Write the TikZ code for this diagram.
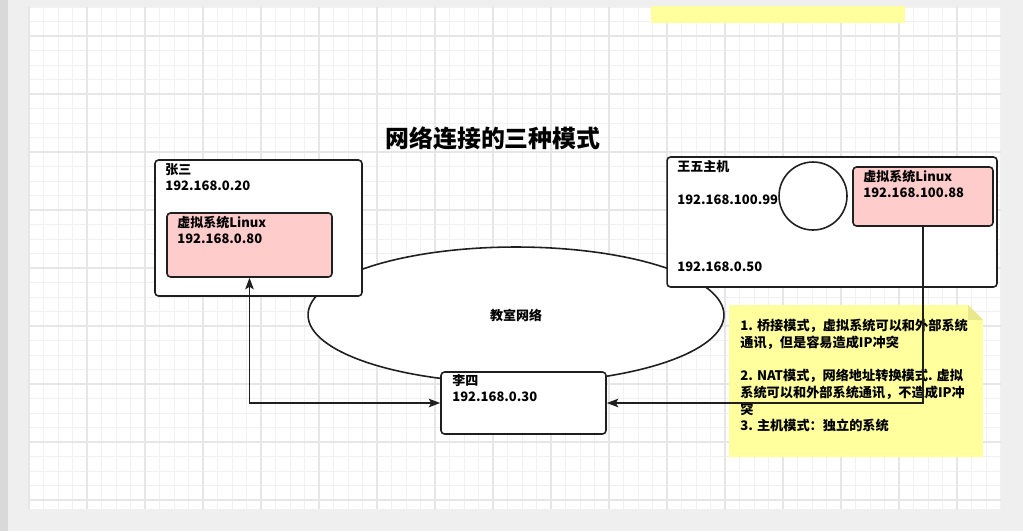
\documentclass[tikz,border=0pt]{standalone}
\usepackage{fontspec}
\setmainfont{Noto Sans CJK SC}
\usepackage{xcolor}
\usetikzlibrary{shapes.geometric, arrows.meta, positioning}

\definecolor{vmpink}{HTML}{FFCCCC}
\definecolor{notey}{HTML}{FFFF9E}
\definecolor{notefold}{HTML}{E8E88C}
\definecolor{inkline}{HTML}{1F1F1F}
\definecolor{pagegray}{HTML}{EFEFEF}
\definecolor{gridminor}{HTML}{F1F1F1}
\definecolor{gridmajor}{HTML}{E6E6E6}

\begin{document}
\begin{tikzpicture}[
    x=0.02cm, y=-0.02cm,
    host/.style={draw=inkline, line width=0.9pt, rounded corners=2pt, fill=white, inner sep=0pt},
    vm/.style={host, fill=vmpink},
    net/.style={draw=inkline, line width=0.9pt, ellipse, fill=white, minimum width=8.32cm, minimum height=2.72cm, font=\fontsize{7.4}{9}\selectfont\bfseries},
    lbl/.style={anchor=north west, align=left, inner sep=0pt, font=\fontsize{7.4}{9.1}\selectfont\bfseries},
    link/.style={->, line width=0.9pt, draw=inkline, >={Stealth[length=2.3mm, width=1.7mm, inset=0.5mm]}}
]
    % page and grid
    \fill[pagegray] (0,0) rectangle (1023,531);
    \fill[gray!30] (0,0) rectangle (8,531);
    \fill[white] (29,7) rectangle (1001,509);
    \foreach \x in {29,43.5,...,1001} \draw[gridminor, line width=0.4pt] (\x,7) -- (\x,509);
    \foreach \y in {7,21.5,...,509} \draw[gridminor, line width=0.4pt] (29,\y) -- (1001,\y);
    \foreach \x in {29,87,...,1001} \draw[gridmajor, line width=0.6pt] (\x,7) -- (\x,509);
    \foreach \y in {36,94,...,509} \draw[gridmajor, line width=0.6pt] (29,\y) -- (1001,\y);
    \fill[notey] (651,6) rectangle (905,23);

    \node[font=\fontsize{13.6}{16}\selectfont\bfseries] (title) at (493,138) {网络连接的三种模式};

    \node[net] (lan) at (516,315) {教室网络};

    \node[host, minimum width=4.14cm, minimum height=2.72cm] (zs) at (258.5,228) {};
    \node[vm, minimum width=3.3cm, minimum height=1.28cm] (zsvm) at (249.5,245) {};
    \node[lbl] (zsname) at (165,163) {张三\\192.168.0.20};
    \node[lbl] (zsvmname) at (177,216) {虚拟系统Linux\\192.168.0.80};

    \node[host, minimum width=3.3cm, minimum height=1.24cm] (ls) at (523.5,403) {};
    \node[lbl] (lsname) at (452,374) {李四\\192.168.0.30};

    \node[host, minimum width=6.6cm, minimum height=2.6cm] (ww) at (832,222) {};
    \node[circle, draw=inkline, line width=0.9pt, fill=white, minimum size=1.36cm, inner sep=0pt] (wwnic) at (813,196) {};
    \node[lbl] (wwname) at (677,160) {王五主机};
    \node[lbl, anchor=west] (wwip1) at (677,200) {192.168.100.99};
    \node[lbl, anchor=west] (wwip2) at (677,267) {192.168.0.50};
    \node[vm, minimum width=2.8cm, minimum height=1.18cm] (wwvm) at (923,196.5) {};
    \node[lbl] (wwvmname) at (863,170) {虚拟系统Linux\\192.168.100.88};

    \fill[notey] (729,305) -- (968,305) -- (983,320) -- (983,457) -- (729,457) -- cycle;
    \fill[notefold] (968,305) -- (983,320) -- (968,320) -- cycle;
    \node[lbl, font=\fontsize{7.5}{9.5}\selectfont\bfseries] (note) at (740,319)
        {1. 桥接模式，虚拟系统可以和外部系统\\通讯，但是容易造成IP冲突\\[9.5pt]2. NAT模式，网络地址转换模式. 虚拟\\系统可以和外部系统通讯，不造成IP冲\\突\\3. 主机模式：独立的系统};

    \draw[link, <->] (zsvm.south) |- (ls.west);
    \draw[link] (wwvm.south) |- (ls.east);
\end{tikzpicture}
\end{document}
